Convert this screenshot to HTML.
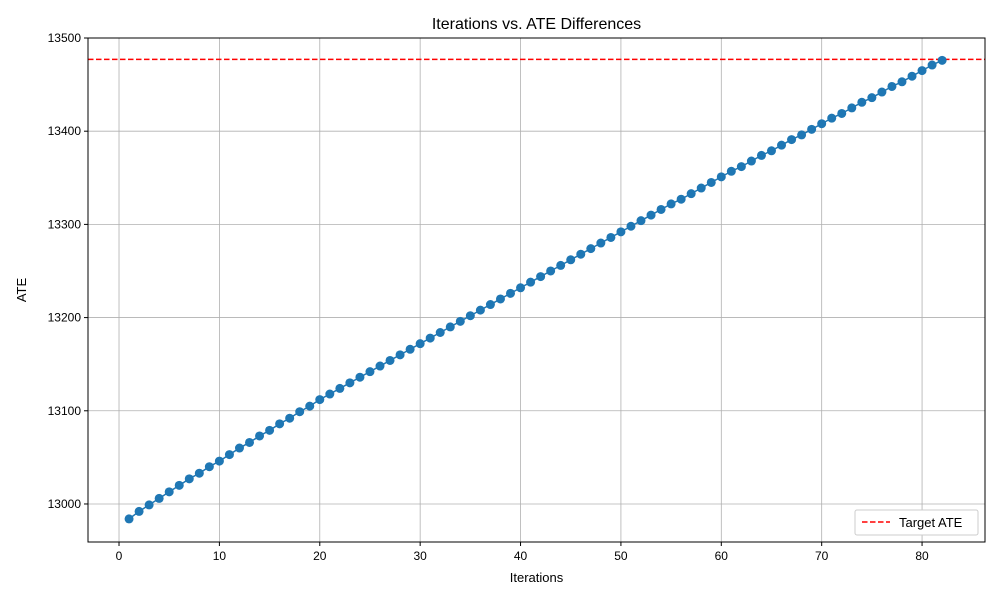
<!DOCTYPE html>
<html><head><meta charset="utf-8"><style>
body{margin:0;background:#fff;}
svg{display:block;font-family:"Liberation Sans","DejaVu Sans",sans-serif;}
</style></head><body>
<svg id="chart" width="1000" height="600" viewBox="0 0 1000 600" xmlns="http://www.w3.org/2000/svg">
<rect width="1000" height="600" fill="#fff"/>
<g id="grid"></g>
<g id="ticks"></g>
<g id="marks"></g>
<rect x="88" y="38" width="897" height="504" fill="none" stroke="#000" stroke-width="1"/>
<text x="536.5" y="29" font-size="16" text-anchor="middle">Iterations vs. ATE Differences</text>
<text x="536.5" y="582" font-size="13" text-anchor="middle">Iterations</text>
<text x="26" y="290" font-size="13" text-anchor="middle" transform="rotate(-90 26 290)">ATE</text>
<g>
<rect x="855" y="510" width="123" height="25" fill="#fff" stroke="#ccc" rx="2"/>
<line x1="862" y1="522" x2="890" y2="522" stroke="red" stroke-width="1.5" stroke-dasharray="5.5,2.5"/>
<text x="899" y="527" font-size="13">Target ATE</text>
</g>
</svg>
<script>
const iterations = Array.from({length:82},(_,i)=>i+1);
const ateValues = [12984,12992,12999,13006,13013,13020,13027,13033,13040,13046,
13053,13060,13066,13073,13079,13086,13092,13099,13105,13112,
13118,13124,13130,13136,13142,13148,13154,13160,13166,13172,
13178,13184,13190,13196,13202,13208,13214,13220,13226,13232,
13238,13244,13250,13256,13262,13268,13274,13280,13286,13292,
13298,13304,13310,13316,13322,13327,13333,13339,13345,13351,
13357,13362,13368,13374,13379,13385,13391,13396,13402,13408,
13414,13419,13425,13431,13436,13442,13448,13453,13459,13465,
13471,13476];
const targetATE = 13477;
const xTicks = [0,10,20,30,40,50,60,70,80];
const yTicks = [13000,13100,13200,13300,13400,13500];

const NS="http://www.w3.org/2000/svg";
const L=88,R=985,T=38,B=542;
const xMin=-3.09,xMax=86.27,yMin=12959.2,yMax=13500;
const xs=v=>L+(v-xMin)/(xMax-xMin)*(R-L);
const ys=v=>B-(v-yMin)/(yMax-yMin)*(B-T);
function mk(tag,attrs,parent){const e=document.createElementNS(NS,tag);for(const k in attrs)e.setAttribute(k,attrs[k]);parent.appendChild(e);return e;}
const grid=document.getElementById('grid'),ticks=document.getElementById('ticks'),marks=document.getElementById('marks');
xTicks.forEach(t=>{const x=xs(t);
 const g=mk('line',{x1:x,x2:x,y1:T,y2:B,stroke:'#b0b0b0','stroke-width':0.8},grid);
 
 
 mk('line',{x1:x,x2:x,y1:B,y2:B+4,stroke:'#000'},ticks);
 const tx=mk('text',{x:x,y:B+18,'font-size':12,'text-anchor':'middle'},ticks);tx.textContent=t;
 
 
});
yTicks.forEach(t=>{const y=ys(t);
 const g=mk('line',{x1:L,x2:R,y1:y,y2:y,stroke:'#b0b0b0','stroke-width':0.8},grid);
 
 
 mk('line',{x1:L-4,x2:L,y1:y,y2:y,stroke:'#000'},ticks);
 const tx=mk('text',{x:L-7,y:y+4,'font-size':12,'text-anchor':'end'},ticks);tx.textContent=t;
 
 
});
const ty=ys(targetATE);
const tl=mk('line',{x1:L,x2:R,y1:ty,y2:ty,stroke:'red','stroke-width':1.5,'stroke-dasharray':'5.5,2.5'},marks);


const pts=iterations.map((it,i)=>xs(it)+','+ys(ateValues[i])).join(' ');
const pl=mk('polyline',{points:pts,fill:'none',stroke:'#1f77b4','stroke-width':1.5},marks);


iterations.forEach((it,i)=>{
 const c=mk('circle',{cx:xs(it),cy:ys(ateValues[i]),r:4.5,fill:'#1f77b4'},marks);
 
 
});
</script>
</body></html>
